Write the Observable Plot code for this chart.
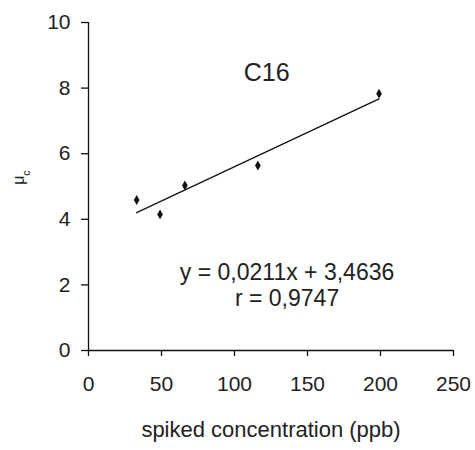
<!DOCTYPE html>
<html>
<head>
<meta charset="utf-8">
<script src="https://cdn.jsdelivr.net/npm/d3@7"></script>
<script src="https://cdn.jsdelivr.net/npm/@observablehq/plot@0.6"></script>
<style>
  body { margin: 0; background: #fff; }
  svg { font-family: "Liberation Sans", Arial, sans-serif; }
</style>
</head>
<body>
<div id="chart"></div>
<script>
// Data
const conc = [33, 49, 66, 116, 199];          // spiked concentration (ppb)
const mu = [4.59, 4.15, 5.03, 5.64, 7.83];     // μc
const xTicks = [0, 50, 100, 150, 200, 250];
const yTicks = [0, 2, 4, 6, 8, 10];
const seriesLabel = "C16";
const equationText = "y = 0,0211x + 3,4636\nr = 0,9747";
const xTitle = "spiked concentration (ppb)";

const points = conc.map((c, i) => ({x: c, y: mu[i]}));

const chart = Plot.plot({
  width: 475,
  height: 450,
  marginLeft: 88,
  marginRight: 22,
  marginTop: 22,
  marginBottom: 100,
  style: {fontFamily: "Liberation Sans, Arial, sans-serif", color: "#222", background: "#fff"},
  x: {domain: [0, 250]},
  y: {domain: [0, 10]},
  marks: [
    Plot.ruleX([0], {stroke: "#111", strokeWidth: 1.3}),
    Plot.ruleY([0], {stroke: "#111", strokeWidth: 1.3}),
    Plot.axisY({ticks: yTicks, tickSize: 7, tickPadding: 11, fontSize: 21, label: null, stroke: "#111", strokeWidth: 1.3}),
    Plot.axisX({ticks: xTicks, tickSize: 6, tickPadding: 20, fontSize: 21, label: null, stroke: "#111", strokeWidth: 1.3}),
    Plot.linearRegressionY(points, {x: "x", y: "y", ci: 0, stroke: "#111", strokeWidth: 1.3}),
    Plot.dot(points, {x: "x", y: "y", symbol: "diamond", r: 3, fill: "#111", stroke: "none"}),
    Plot.text([seriesLabel], {x: 122, y: 8.46, text: d => d, fontSize: 25, fill: "#222"}),
    Plot.text([equationText], {x: 136, y: 2.01, text: d => d, fontSize: 23, lineHeight: 1.13, fill: "#222"}),
    Plot.text([xTitle], {frameAnchor: "bottom", dy: 86, text: d => d, fontSize: 22, fill: "#222"}),
    Plot.text(["μc"], {frameAnchor: "left", dx: -70, y: 5.05, rotate: -90, text: d => d, fontSize: 16, fill: "#222", className: "ylab"})
  ]
});

// subscript "c" in the y label
d3.select(chart).selectAll(".ylab text").each(function() {
  const t = d3.select(this);
  t.text("μ");
  t.append("tspan").attr("baseline-shift", "sub").attr("font-size", "65%").text("c");
});

document.getElementById("chart").appendChild(chart);
</script>
</body>
</html>
